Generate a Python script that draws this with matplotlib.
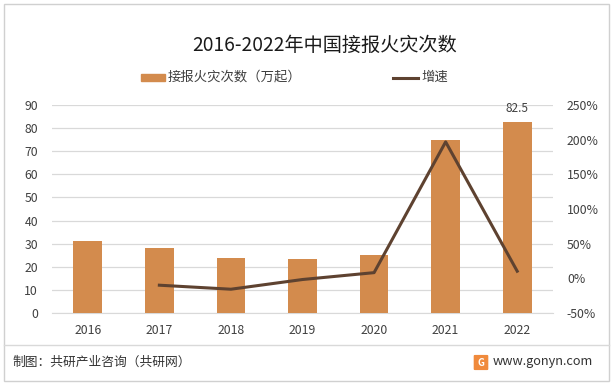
import matplotlib.pyplot as plt
from matplotlib.patches import Rectangle, FancyBboxPatch
from matplotlib.lines import Line2D

plt.rcParams['font.family'] = ['Noto Sans CJK SC', 'DejaVu Sans']

years = ['2016', '2017', '2018', '2019', '2020', '2021', '2022']
fires = [31.2, 28.1, 23.7, 23.3, 25.2, 74.8, 82.5]
growth_years = ['2017', '2018', '2019', '2020', '2021', '2022']
growth = [-9.9, -15.7, -1.7, 8.2, 196.8, 10.3]

bar_color = '#D38B4D'
line_color = '#5E4230'

fig = plt.figure(figsize=(6.13, 3.85), dpi=100)
W, H = 613, 385
ax = fig.add_axes([52 / W, 1 - 313 / H, (553 - 52) / W, (313 - 105) / H])
ax2 = ax.twinx()

x = list(range(len(years)))
ax.bar(x, fires, width=0.4, color=bar_color, zorder=3)
ax.text(x[-1], fires[-1] + 3, '82.5', ha='center', va='bottom', fontsize=8.5, color='#404040')

gx = [years.index(y) for y in growth_years]
ax2.plot(gx, growth, color=line_color, linewidth=2.2, zorder=4)

ax.set_ylim(0, 90)
ax.set_yticks(range(0, 91, 10))
ax2.set_ylim(-50, 250)
ax2.set_yticks(range(-50, 251, 50))
ax2.set_yticklabels([f'{v}%' for v in range(-50, 251, 50)])
ax.set_xlim(-0.5, len(years) - 0.5)
ax.set_xticks(x)
ax.set_xticklabels(years)

ax.grid(axis='y', color='#D9D9D9', linewidth=0.9, zorder=0)
ax.set_axisbelow(True)
for a in (ax, ax2):
    for s in a.spines.values():
        s.set_visible(False)
    a.tick_params(length=0, labelsize=8.8, colors='#404040')
ax.spines['bottom'].set_visible(True)
ax.spines['bottom'].set_color('#D9D9D9')
ax.tick_params(axis='y', pad=10)
ax.tick_params(axis='x', pad=8)
ax2.tick_params(axis='y', pad=10)

fig.text(0.53, 1 - 45 / H, '2016-2022年中国接报火灾次数', ha='center', va='center', fontsize=13.8, color='#1a1a1a')

# legend
fig.add_artist(Rectangle((141 / W, 1 - 81 / H), 24 / W, 7 / H, color=bar_color, transform=fig.transFigure))
fig.text(168 / W, 1 - 77 / H, '接报火灾次数（万起）', va='center', fontsize=9.6, color='#404040')
fig.add_artist(Line2D([393 / W, 418 / W], [1 - 78 / H, 1 - 78 / H], color=line_color, linewidth=2.2, transform=fig.transFigure))
fig.text(421 / W, 1 - 77 / H, '增速', va='center', fontsize=9.6, color='#404040')

# frame and footer
fig.add_artist(Rectangle((4 / W, 4 / H), (W - 8) / W, (H - 8) / H, fill=False, edgecolor='#D0D0D0', linewidth=1, transform=fig.transFigure))
fig.add_artist(Line2D([4 / W, (W - 4) / W], [1 - 345 / H, 1 - 345 / H], color='#D9D9D9', linewidth=1, transform=fig.transFigure))
fig.text(12 / W, 1 - 362 / H, '制图：共研产业咨询（共研网）', va='center', fontsize=9.2, color='#333333')
fig.add_artist(FancyBboxPatch((475 / W, 1 - 369 / H), 12 / W, 13 / H, boxstyle='round,pad=0.001', color='#F08A3C', transform=fig.transFigure))
fig.text(481 / W, 1 - 362.5 / H, 'G', ha='center', va='center', fontsize=7, color='white', fontweight='bold')
fig.text(493 / W, 1 - 362 / H, 'www.gonyn.com', va='center', fontsize=9.2, color='#333333')

fig.savefig('out.png', dpi=100)
